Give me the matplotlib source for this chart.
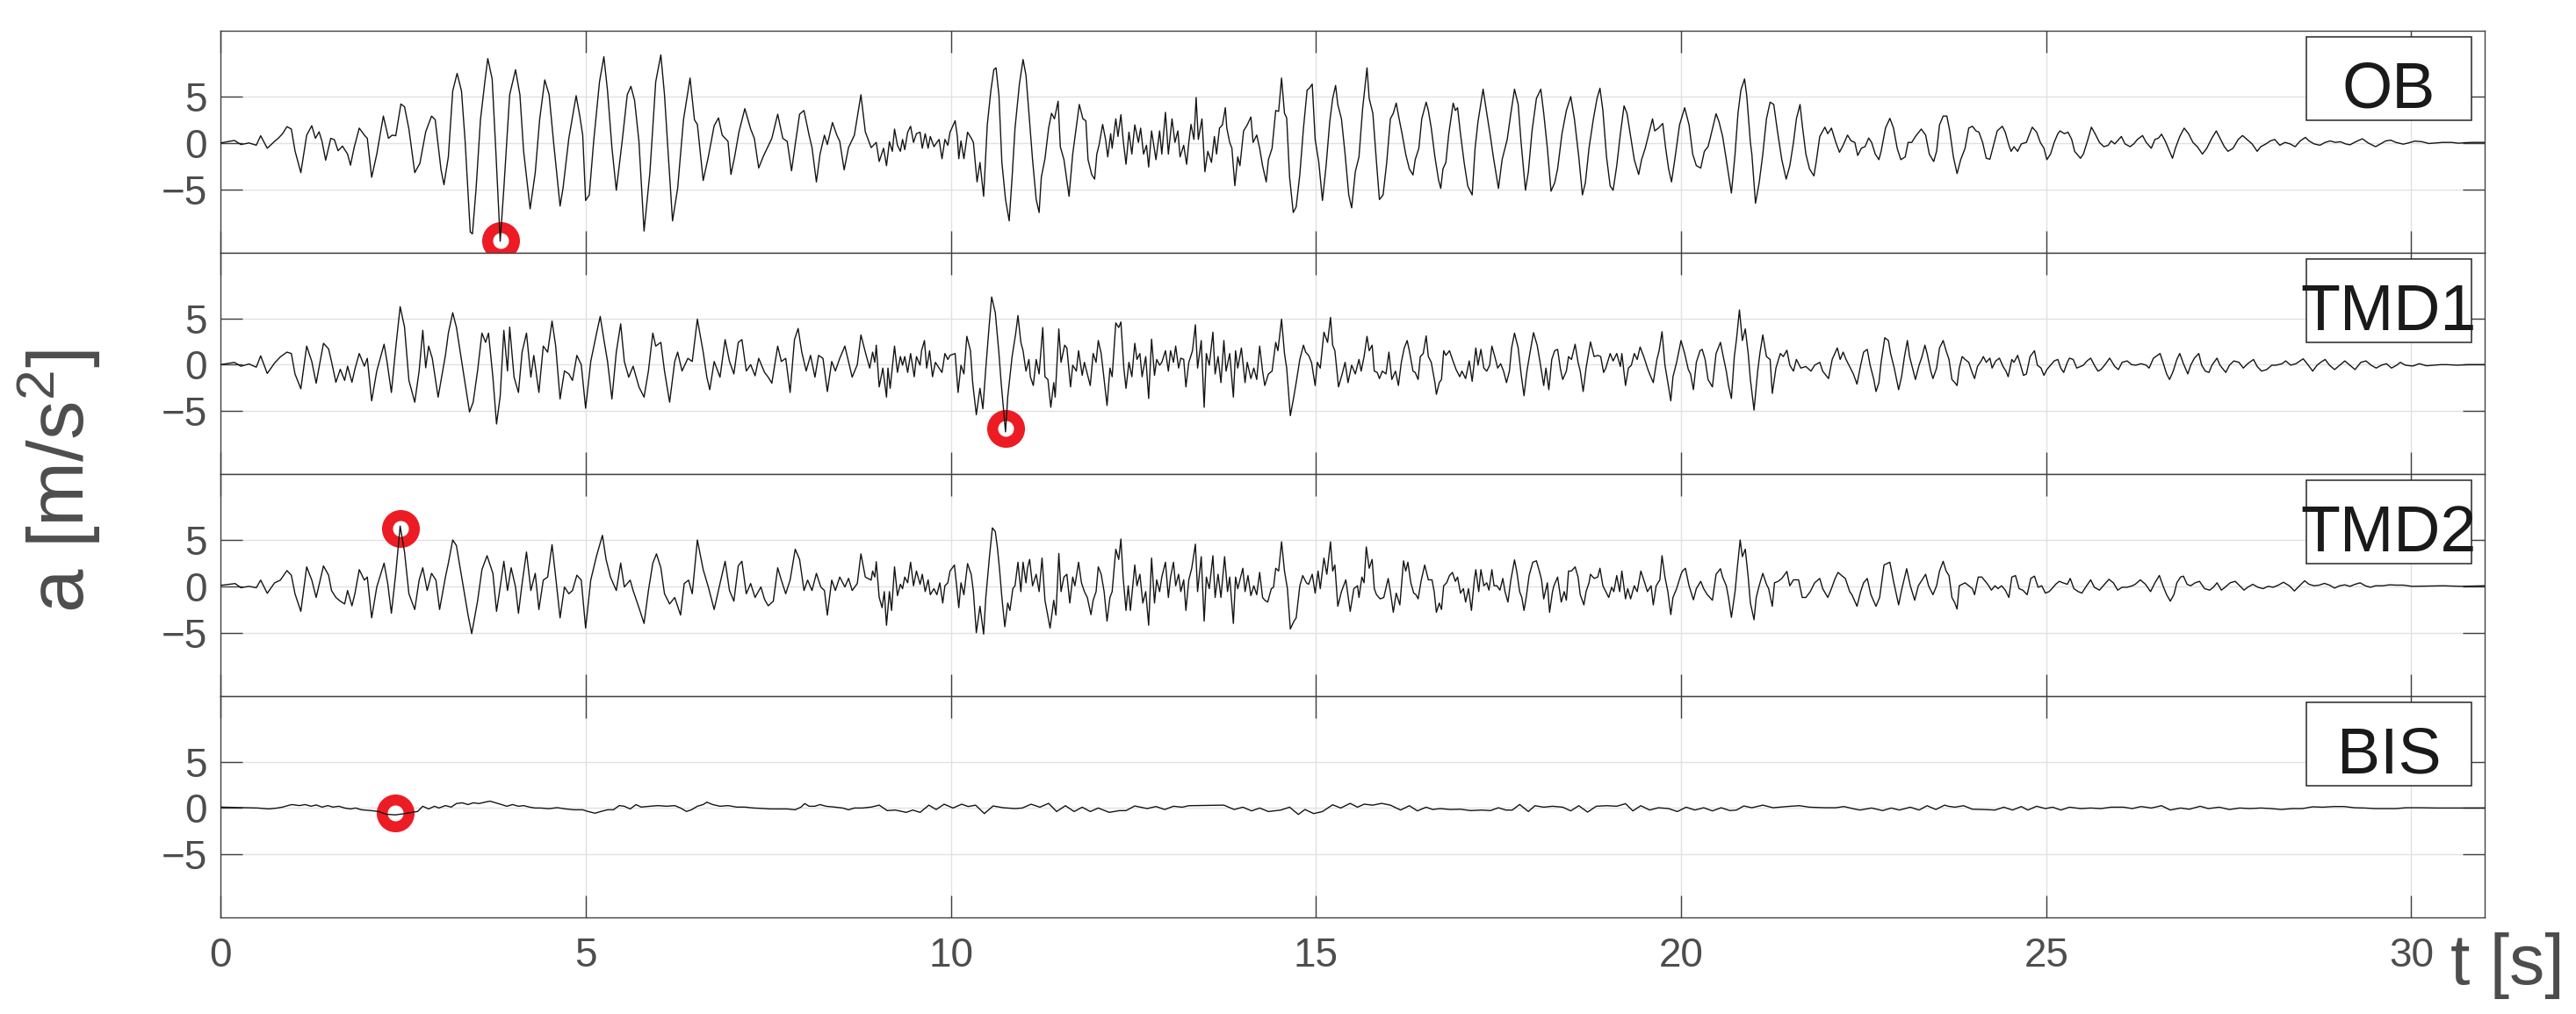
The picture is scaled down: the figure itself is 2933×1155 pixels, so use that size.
import numpy as np
import matplotlib
matplotlib.use("Agg")
import matplotlib.pyplot as plt
from matplotlib.patches import Rectangle

plt.rcParams['font.family'] = ['Liberation Sans', 'DejaVu Sans']
plt.rcParams['mathtext.fontset'] = 'custom'
plt.rcParams['mathtext.rm'] = 'Liberation Sans'
plt.rcParams['mathtext.it'] = 'Liberation Sans'

# (t [s], a [m/s^2]) pairs, peaks and troughs
ob = [
    (0.00, 0.0), (0.19, 0.27), (0.28, -0.17), (0.39, 0.0), (0.49, -0.24), (0.55, 0.78), (0.64, -0.57),
    (0.74, 0.17), (0.79, 0.5), (0.85, 1.0), (0.91, 1.76), (0.97, 1.5), (1.02, -0.84), (1.10, -3.2),
    (1.18, 0.84), (1.25, 1.86), (1.30, 0.5), (1.35, 1.2), (1.39, 0.17), (1.44, -1.86), (1.51, 0.5),
    (1.56, 0.34), (1.61, -0.84), (1.67, -0.34), (1.74, -1.2), (1.78, -2.4), (1.83, -0.5), (1.90, 1.6),
    (1.97, 0.84), (2.01, 0.5), (2.07, -3.7), (2.14, -1.2), (2.23, 2.9), (2.30, 0.5), (2.35, 0.84),
    (2.40, 0.78), (2.47, 4.2), (2.52, 3.9), (2.58, 1.5), (2.66, -3.2), (2.73, -2.2), (2.81, 1.2),
    (2.89, 2.9), (2.94, 2.5), (3.02, -2.9), (3.06, -4.5), (3.12, -1.5), (3.18, 5.6), (3.24, 7.5),
    (3.30, 5.6), (3.35, 0.17), (3.42, -9.6), (3.45, -9.8), (3.50, -4.9), (3.56, 2.5), (3.62, 6.6),
    (3.66, 9.1), (3.72, 6.9), (3.77, -0.84), (3.83, -10.6), (3.88, -4.9), (3.96, 5.2), (4.04, 7.9),
    (4.10, 5.2), (4.15, -0.84), (4.24, -7.1), (4.31, -3.2), (4.37, 2.5), (4.44, 6.8), (4.50, 5.2),
    (4.56, 0.17), (4.65, -6.8), (4.69, -4.9), (4.77, 0.5), (4.87, 5.1), (4.92, 2.9), (4.96, 0.84),
    (5.00, -6.2), (5.05, -5.6), (5.11, 0.17), (5.19, 6.6), (5.25, 9.3), (5.30, 5.6), (5.36, -0.5),
    (5.42, -5.1), (5.50, 0.17), (5.57, 5.2), (5.62, 6.1), (5.67, 4.6), (5.73, 0.17), (5.80, -9.5),
    (5.88, -3.2), (5.96, 6.6), (6.03, 9.5), (6.08, 5.2), (6.12, 0.17), (6.19, -8.4), (6.26, -4.9),
    (6.34, 2.5), (6.43, 7.0), (6.49, 2.5), (6.53, 2.0), (6.61, -4.05), (6.68, -1.5), (6.76, 1.86),
    (6.82, 2.7), (6.87, 0.84), (6.95, 0.17), (6.99, -3.4), (7.04, -1.5), (7.10, 1.2), (7.18, 3.7),
    (7.26, 1.5), (7.31, 0.5), (7.37, -2.7), (7.43, -1.5), (7.49, -0.5), (7.55, 0.5), (7.63, 3.1),
    (7.70, 0.5), (7.76, 0.17), (7.82, -3.0), (7.87, -0.17), (7.93, 3.1), (7.99, 3.5), (8.06, 0.84),
    (8.10, -0.5), (8.16, -4.2), (8.21, -1.2), (8.27, 0.84), (8.31, -0.17), (8.38, 2.2), (8.44, 0.84),
    (8.48, 0.17), (8.54, -2.9), (8.60, -0.5), (8.68, 0.84), (8.77, 5.2), (8.83, 1.2), (8.91, -0.5),
    (8.98, 0.06), (9.02, -2.0), (9.08, -0.57), (9.12, -2.45), (9.16, 0.13), (9.20, -0.9), (9.23, 1.5),
    (9.27, -0.25), (9.31, -0.9), (9.34, 0.38), (9.37, -0.72), (9.41, 1.16), (9.45, 1.8), (9.49, 0.06),
    (9.53, 1.0), (9.58, 1.16), (9.61, -0.57), (9.65, 1.0), (9.69, -0.57), (9.72, 0.7), (9.77, -0.4),
    (9.81, 0.06), (9.84, 0.38), (9.88, -1.7), (9.92, 0.38), (9.96, -0.25), (9.99, 1.16), (10.06, 2.4),
    (10.09, 0.7), (10.11, -1.7), (10.14, 0.22), (10.18, -1.7), (10.23, 1.16), (10.28, 0.53), (10.31, 0.06),
    (10.36, -4.2), (10.40, -2.1), (10.45, -5.75), (10.50, 1.95), (10.55, 5.7), (10.59, 7.9), (10.62, 8.1),
    (10.66, 5.1), (10.70, -2.1), (10.75, -6.1), (10.80, -8.4), (10.84, -3.7), (10.88, 1.6), (10.94, 6.35),
    (10.99, 9.0), (11.03, 7.3), (11.07, 3.2), (11.12, -1.8), (11.17, -6.1), (11.21, -7.5), (11.24, -3.7),
    (11.29, -1.7), (11.34, 1.6), (11.38, 3.2), (11.42, 2.6), (11.47, 4.5), (11.50, -0.4), (11.55, -1.8),
    (11.62, -5.75), (11.67, -1.2), (11.72, 1.8), (11.76, 4.15), (11.81, 2.6), (11.85, 2.4), (11.88, -1.8),
    (11.93, -3.4), (11.97, -3.9), (12.00, -1.2), (12.03, -0.25), (12.08, 2.0), (12.12, 0.38), (12.15, -1.5),
    (12.19, 1.0), (12.21, -0.57), (12.26, 2.6), (12.29, 0.7), (12.33, 3.05), (12.36, 0.38), (12.40, -2.3),
    (12.44, 1.16), (12.48, -1.2), (12.52, 1.95), (12.57, 0.06), (12.60, 1.6), (12.64, -1.2), (12.68, -0.25),
    (12.71, -2.6), (12.75, 1.3), (12.78, -0.25), (12.81, -1.8), (12.86, 1.3), (12.89, -1.2), (12.94, 3.3),
    (12.98, -1.2), (13.03, 2.6), (13.07, 0.06), (13.11, 1.3), (13.14, -1.5), (13.19, -0.25), (13.23, -2.3),
    (13.26, 0.06), (13.29, 2.0), (13.33, 0.38), (13.36, 4.9), (13.39, 0.38), (13.44, 2.6), (13.48, -3.1),
    (13.52, -0.9), (13.57, -2.1), (13.61, 0.7), (13.64, -1.2), (13.68, 1.6), (13.72, 1.95), (13.76, 3.8),
    (13.78, 1.6), (13.82, 0.06), (13.85, -0.57), (13.89, -4.6), (13.93, -1.5), (13.96, -2.45), (14.01, 1.3),
    (14.06, 1.95), (14.11, 2.8), (14.14, 0.06), (14.19, 0.85), (14.23, -0.57), (14.27, -2.45), (14.32, -4.2),
    (14.35, -1.8), (14.40, -0.57), (14.45, 3.5), (14.49, 3.4), (14.53, 7.0), (14.57, 3.2), (14.60, 2.7),
    (14.64, -3.7), (14.69, -7.5), (14.73, -6.9), (14.78, -3.4), (14.83, 1.6), (14.88, 5.7), (14.91, 5.9),
    (14.95, 6.35), (14.99, 0.38), (15.04, -2.1), (15.09, -6.2), (15.14, -2.45), (15.19, 2.3), (15.23, 4.8),
    (15.27, 6.2), (15.30, 4.15), (15.35, 2.6), (15.40, -1.2), (15.45, -5.6), (15.49, -7.0), (15.54, -3.1),
    (15.59, -1.5), (15.64, 3.7), (15.70, 8.1), (15.73, 4.8), (15.78, 3.2), (15.83, -2.1), (15.87, -6.1),
    (15.92, -5.6), (15.97, -2.1), (16.02, 2.6), (16.06, 3.2), (16.10, 4.3), (16.14, 2.6), (16.18, 1.0),
    (16.23, -1.2), (16.28, -2.8), (16.33, -3.45), (16.36, -1.8), (16.41, -0.57), (16.45, 2.6), (16.51, 4.4),
    (16.54, 3.5), (16.58, 1.6), (16.63, -1.5), (16.68, -4.0), (16.71, -4.9), (16.74, -2.8), (16.78, -2.1),
    (16.82, 1.0), (16.88, 4.3), (16.91, 3.5), (16.94, 3.8), (16.98, 1.0), (17.03, -2.1), (17.08, -4.65),
    (17.14, -5.6), (17.18, -0.57), (17.22, 2.3), (17.29, 5.8), (17.34, 3.2), (17.39, 0.7), (17.43, -1.5),
    (17.50, -4.9), (17.55, -1.8), (17.62, 0.38), (17.67, 3.2), (17.72, 5.8), (17.77, 4.15), (17.81, 0.06),
    (17.87, -5.1), (17.91, -3.1), (17.96, 1.3), (18.02, 4.8), (18.08, 5.8), (18.12, 3.2), (18.17, -0.57),
    (18.22, -5.2), (18.27, -4.3), (18.31, -2.8), (18.37, 1.0), (18.43, 3.5), (18.49, 5.0), (18.54, 2.6),
    (18.60, -1.5), (18.65, -5.6), (18.69, -4.3), (18.74, -0.57), (18.80, 2.6), (18.85, 4.8), (18.89, 5.9),
    (18.93, 3.5), (18.98, -1.5), (19.03, -4.65), (19.07, -5.1), (19.12, -2.45), (19.17, 1.0), (19.22, 4.0),
    (19.26, 3.2), (19.31, 0.7), (19.36, -1.8), (19.42, -3.4), (19.46, -1.8), (19.51, -0.57), (19.55, 0.7),
    (19.61, 2.6), (19.64, 1.3), (19.69, 1.6), (19.75, 2.1), (19.79, -0.57), (19.83, -2.8), (19.87, -4.2),
    (19.92, -1.5), (19.98, 1.95), (20.05, 3.8), (20.11, 1.95), (20.16, -1.2), (20.21, -2.45), (20.27, -2.7),
    (20.32, -0.9), (20.37, -0.4), (20.41, 0.85), (20.48, 3.15), (20.52, 2.3), (20.57, 0.7), (20.62, -1.8),
    (20.69, -5.4), (20.74, -1.2), (20.78, 3.2), (20.82, 5.7), (20.87, 6.9), (20.90, 5.1), (20.95, 0.06),
    (20.97, -1.2), (21.02, -6.5), (21.07, -4.3), (21.12, -1.2), (21.17, 2.6), (21.22, 4.4), (21.27, 4.15),
    (21.32, 1.3), (21.38, -1.8), (21.44, -3.9), (21.49, -2.45), (21.54, 0.06), (21.58, 2.6), (21.63, 4.15),
    (21.66, 1.95), (21.71, -1.2), (21.76, -2.8), (21.82, -3.55), (21.85, -2.1), (21.90, 0.7), (21.97, 1.7),
    (22.01, 1.0), (22.06, 1.6), (22.12, 0.06), (22.17, -1.0), (22.22, -0.25), (22.28, 0.85), (22.33, 0.22),
    (22.38, 0.06), (22.42, -1.35), (22.47, -0.57), (22.52, -0.4), (22.57, 0.53), (22.61, 0.06), (22.66, -1.2),
    (22.71, -1.8), (22.74, -0.9), (22.80, 1.6), (22.86, 2.65), (22.91, 1.6), (22.96, -0.57), (23.01, -1.8),
    (23.07, -1.5), (23.11, 0.06), (23.16, 0.06), (23.21, 0.7), (23.29, 1.5), (23.35, 0.85), (23.40, -1.2),
    (23.46, -2.0), (23.50, -0.9), (23.54, 1.95), (23.59, 2.9), (23.64, 2.9), (23.68, 1.3), (23.73, -1.5),
    (23.78, -3.3), (23.83, -1.8), (23.89, -0.57), (23.94, 1.6), (23.99, 1.8), (24.04, 1.3), (24.08, 1.16),
    (24.13, 0.06), (24.18, -1.65), (24.23, -1.75), (24.29, 0.06), (24.33, 1.3), (24.40, 1.8), (24.44, 1.16),
    (24.49, -0.25), (24.52, -0.9), (24.56, -0.4), (24.61, -0.9), (24.66, -0.1), (24.73, 0.06), (24.76, 0.7),
    (24.81, 1.7), (24.87, 1.16), (24.92, 0.06), (24.97, -0.57), (25.01, -1.8), (25.06, -1.2), (25.11, 0.06),
    (25.16, 1.0), (25.19, 1.3), (25.25, 1.0), (25.30, 1.16), (25.35, 0.38), (25.39, -0.9), (25.47, -1.65),
    (25.51, -1.2), (25.56, 0.06), (25.62, 1.7), (25.67, 1.0), (25.73, 0.06), (25.79, -0.4), (25.85, -0.25),
    (25.89, 0.22), (25.94, -0.1), (26.03, 0.7), (26.08, -0.1), (26.15, -0.4), (26.20, -0.1), (26.25, 0.38),
    (26.32, 0.8), (26.37, 0.06), (26.44, -0.57), (26.49, 0.38), (26.54, 0.53), (26.58, 0.95), (26.63, 0.22),
    (26.68, -0.72), (26.73, -1.65), (26.77, -0.57), (26.83, 0.7), (26.89, 1.6), (26.95, 1.0), (27.01, 0.06),
    (27.07, -0.4), (27.14, -1.2), (27.20, -0.57), (27.27, 0.53), (27.33, 1.3), (27.39, 0.38), (27.44, -0.4),
    (27.49, -0.9), (27.56, -0.57), (27.63, 0.38), (27.69, 0.8), (27.75, 0.38), (27.82, -0.1), (27.89, -0.9),
    (27.94, -0.4), (28.01, -0.1), (28.07, 0.22), (28.13, 0.38), (28.20, -0.25), (28.27, 0.06), (28.34, -0.1),
    (28.41, -0.4), (28.48, 0.22), (28.55, 0.6), (28.60, 0.22), (28.67, -0.1), (28.75, -0.25), (28.82, 0.06),
    (28.89, 0.22), (28.96, 0.06), (29.03, 0.13), (29.10, -0.1), (29.16, -0.2), (29.24, 0.13), (29.33, 0.45),
    (29.41, 0.0), (29.51, -0.4), (29.58, -0.1), (29.65, 0.22), (29.72, 0.3), (29.79, 0.06), (29.89, -0.13),
    (29.96, 0.0), (30.05, 0.2), (30.15, 0.13), (30.24, -0.06), (30.34, 0.0), (30.43, 0.06), (30.55, 0.06),
    (30.65, -0.03), (30.74, 0.03), (30.84, 0.06), (31.00, 0.06),
]

tmd1 = [
    (0.00, 0.0), (0.19, 0.24), (0.28, -0.17), (0.39, 0.07), (0.49, -0.27), (0.55, 0.95), (0.64, -0.95),
    (0.74, 0.17), (0.82, 0.84), (0.91, 1.35), (0.97, 1.2), (1.02, -1.0), (1.10, -2.6), (1.18, 2.0),
    (1.25, 0.34), (1.31, -2.0), (1.41, 2.3), (1.48, 1.7), (1.52, 0.34), (1.58, -1.9), (1.64, -0.5),
    (1.70, -1.7), (1.74, -0.17), (1.80, -1.9), (1.84, -0.5), (1.90, 1.2), (1.97, -0.17), (2.01, 0.68),
    (2.07, -3.9), (2.14, -0.68), (2.24, 2.2), (2.28, 0.34), (2.34, -3.0), (2.40, 1.86), (2.46, 6.25),
    (2.52, 4.05), (2.58, -1.7), (2.66, -4.05), (2.72, -0.68), (2.77, 3.7), (2.81, -0.34), (2.85, 2.0),
    (2.90, 0.68), (2.98, -3.5), (3.08, 1.0), (3.12, 3.4), (3.18, 5.6), (3.23, 4.05), (3.31, 0.0),
    (3.41, -5.1), (3.46, -4.05), (3.52, -0.68), (3.58, 3.4), (3.63, 2.4), (3.67, 3.4), (3.73, -1.35),
    (3.78, -6.4), (3.83, -3.4), (3.88, 3.7), (3.93, -0.68), (3.96, 4.05), (4.02, -1.35), (4.08, -3.0),
    (4.13, 1.35), (4.19, 3.4), (4.25, -1.35), (4.29, 1.0), (4.36, -3.0), (4.42, 2.0), (4.48, 1.35),
    (4.54, 4.7), (4.59, 2.0), (4.65, -3.7), (4.71, -0.68), (4.77, -1.0), (4.82, -1.7), (4.88, 1.0),
    (4.94, 0.0), (5.00, -4.7), (5.07, 0.34), (5.15, 3.4), (5.20, 5.2), (5.25, 2.7), (5.30, 0.34),
    (5.36, -3.7), (5.42, 1.35), (5.48, 4.4), (5.53, 0.34), (5.59, -1.35), (5.65, -0.17), (5.73, -2.4),
    (5.80, -3.5), (5.86, -0.68), (5.92, 3.4), (5.96, 2.0), (6.03, 2.4), (6.08, -0.68), (6.15, -4.05),
    (6.22, 0.34), (6.26, 1.35), (6.32, -0.68), (6.40, 0.68), (6.46, 0.34), (6.53, 4.9), (6.61, 1.35),
    (6.66, -1.35), (6.70, -2.7), (6.76, 0.34), (6.84, -1.35), (6.91, 2.7), (6.97, 0.34), (7.03, -1.0),
    (7.09, 2.4), (7.14, 2.7), (7.20, -0.68), (7.26, 0.0), (7.32, -1.2), (7.37, 0.68), (7.45, -0.84),
    (7.50, -1.35), (7.55, -2.0), (7.63, 2.0), (7.68, 0.34), (7.74, 0.68), (7.80, -3.0), (7.86, 2.7),
    (7.91, 3.9), (7.96, 1.35), (8.02, -0.68), (8.08, 1.0), (8.14, -1.35), (8.19, 1.0), (8.25, 0.68),
    (8.31, -2.9), (8.37, 0.34), (8.42, -0.68), (8.48, 0.68), (8.55, 2.0), (8.60, 0.34), (8.65, -1.35),
    (8.72, 0.0), (8.77, 3.2), (8.83, 1.35), (8.89, -0.37), (8.93, 1.35), (8.96, 0.25), (8.98, 2.1),
    (9.02, -2.4), (9.07, -0.37), (9.12, -3.5), (9.14, -0.37), (9.17, -2.55), (9.23, 2.0), (9.27, -0.84),
    (9.31, 0.87), (9.34, -0.06), (9.37, 0.87), (9.41, -0.84), (9.45, 1.2), (9.50, -1.3), (9.53, 0.87),
    (9.58, -0.06), (9.60, 1.5), (9.64, 2.6), (9.67, -0.37), (9.71, 1.5), (9.75, -1.3), (9.79, 0.25),
    (9.84, -0.37), (9.88, -0.84), (9.92, 1.2), (9.96, 0.56), (9.99, 1.0), (10.06, 1.2), (10.10, -3.0),
    (10.14, -0.06), (10.18, -1.0), (10.22, 3.05), (10.27, 1.5), (10.30, -1.94), (10.35, -5.4), (10.40, -2.55),
    (10.44, -4.75), (10.48, -0.37), (10.53, 4.6), (10.56, 7.3), (10.61, 5.6), (10.66, 1.2), (10.69, -1.94),
    (10.75, -7.25), (10.78, -3.5), (10.84, 0.87), (10.89, 3.4), (10.92, 5.3), (10.96, 2.4), (10.99, 1.5),
    (11.03, -0.7), (11.07, 0.56), (11.09, -1.3), (11.13, -2.25), (11.17, 0.56), (11.21, -1.0), (11.26, 4.0),
    (11.29, -1.3), (11.33, -1.6), (11.37, -4.6), (11.41, -1.94), (11.43, -3.5), (11.48, 3.85), (11.51, 0.25),
    (11.56, 2.1), (11.59, 1.8), (11.64, -2.4), (11.67, -0.06), (11.72, -0.7), (11.75, 1.5), (11.80, -1.16),
    (11.83, 0.25), (11.87, -1.0), (11.91, -2.25), (11.95, 1.2), (11.99, 0.25), (12.02, 2.6), (12.06, 1.2),
    (12.10, -1.6), (12.14, -4.4), (12.18, -0.37), (12.21, -1.3), (12.26, 4.5), (12.30, 4.0), (12.33, 4.6),
    (12.37, -0.37), (12.40, -2.55), (12.44, 0.25), (12.48, -1.3), (12.52, 2.3), (12.55, 0.56), (12.59, 1.2),
    (12.62, -1.3), (12.67, 0.87), (12.71, -3.65), (12.75, 2.75), (12.79, -1.16), (12.82, 0.56), (12.86, -0.06),
    (12.89, 0.25), (12.94, 1.5), (12.98, -0.7), (13.01, 1.5), (13.05, 0.25), (13.08, 2.0), (13.12, -0.37),
    (13.15, 0.7), (13.19, 0.56), (13.22, -2.4), (13.26, 0.25), (13.31, 1.5), (13.35, 4.3), (13.38, -0.37),
    (13.43, 2.6), (13.47, -4.6), (13.50, 1.2), (13.54, -0.06), (13.59, 3.5), (13.62, -1.0), (13.66, 0.87),
    (13.70, -1.94), (13.74, 2.6), (13.77, -0.7), (13.82, 1.2), (13.87, -3.5), (13.90, 1.5), (13.93, -0.37),
    (13.98, 1.8), (14.03, -1.94), (14.06, 0.25), (14.11, -1.5), (14.15, -0.37), (14.19, -1.6), (14.23, 2.0),
    (14.27, -0.7), (14.30, -2.25), (14.35, -1.0), (14.40, -0.7), (14.45, 2.4), (14.48, 1.5), (14.53, 4.9),
    (14.57, 1.2), (14.60, -0.37), (14.65, -5.5), (14.69, -3.8), (14.73, -1.94), (14.78, 0.56), (14.83, 2.1),
    (14.86, 1.35), (14.90, 1.0), (14.94, 0.25), (14.99, -2.25), (15.02, 0.25), (15.06, -0.37), (15.11, 3.5),
    (15.16, 2.4), (15.20, 5.1), (15.23, 2.1), (15.26, 1.5), (15.31, -2.4), (15.36, -1.0), (15.40, 0.25),
    (15.44, -1.94), (15.49, -0.06), (15.54, -1.0), (15.59, 0.56), (15.62, -0.7), (15.66, 0.87), (15.70, 3.05),
    (15.73, 1.5), (15.77, 2.1), (15.80, -0.7), (15.84, -0.84), (15.87, -1.5), (15.91, -0.7), (15.96, -1.0),
    (16.00, 1.35), (16.04, -1.6), (16.09, -0.7), (16.13, -2.25), (16.17, 0.25), (16.21, 1.8), (16.25, 2.6),
    (16.28, 1.5), (16.33, -0.7), (16.36, -0.84), (16.40, -1.6), (16.43, 0.87), (16.47, 1.2), (16.51, 3.1),
    (16.54, 0.87), (16.58, 0.25), (16.63, -1.94), (16.65, -3.2), (16.69, -1.94), (16.72, -1.6), (16.75, 1.5),
    (16.78, 1.0), (16.83, 1.5), (16.87, 0.56), (16.92, -0.53), (16.97, -1.3), (17.00, -0.7), (17.05, -1.5),
    (17.10, 0.4), (17.14, -1.8), (17.19, 1.8), (17.22, -0.06), (17.26, 1.65), (17.30, -0.37), (17.34, -0.7),
    (17.38, -0.06), (17.41, 2.0), (17.45, 0.87), (17.49, -0.37), (17.53, 0.1), (17.57, -0.7), (17.61, -1.94),
    (17.65, -0.7), (17.68, 1.8), (17.72, 3.4), (17.77, 1.8), (17.81, -1.0), (17.85, -3.35), (17.89, -0.7),
    (17.93, 1.2), (17.98, 3.45), (18.03, 2.1), (18.07, 0.25), (18.12, -2.25), (18.15, -0.37), (18.19, -2.7),
    (18.23, 0.56), (18.27, 1.5), (18.31, 1.65), (18.35, -0.53), (18.38, -1.6), (18.43, -0.7), (18.46, 0.87),
    (18.50, 0.56), (18.55, 2.2), (18.59, 0.25), (18.62, -0.7), (18.66, -2.9), (18.70, -0.37), (18.76, 2.45),
    (18.81, 0.87), (18.86, 1.0), (18.90, 0.87), (18.94, -0.84), (18.97, -0.37), (19.03, 1.2), (19.07, 0.4),
    (19.12, 1.2), (19.17, -0.2), (19.19, 1.2), (19.24, -2.25), (19.28, -0.37), (19.32, -0.06), (19.36, 1.2),
    (19.40, 0.56), (19.44, 1.9), (19.49, 0.87), (19.54, -0.37), (19.57, -1.0), (19.62, -1.94), (19.67, 0.56),
    (19.70, 1.5), (19.74, 3.55), (19.78, -0.06), (19.82, -1.94), (19.86, -3.9), (19.89, -1.3), (19.94, 0.25),
    (20.00, 2.6), (20.05, 1.2), (20.10, -0.53), (20.13, -1.0), (20.17, -2.7), (20.21, 0.25), (20.26, 1.5),
    (20.29, 1.65), (20.33, 0.56), (20.37, -1.6), (20.43, -2.4), (20.48, 1.2), (20.54, 2.4), (20.57, 1.2),
    (20.62, -0.7), (20.65, -2.25), (20.69, -3.65), (20.73, 0.87), (20.76, 2.75), (20.80, 5.9), (20.84, 2.6),
    (20.88, 3.85), (20.92, 1.2), (20.95, -1.6), (21.00, -4.9), (21.05, -0.7), (21.08, 1.2), (21.12, 3.2),
    (21.17, 0.87), (21.22, 0.56), (21.25, -3.1), (21.30, -0.37), (21.36, 1.2), (21.40, 0.87), (21.45, 1.55),
    (21.49, -0.06), (21.54, -0.7), (21.58, 0.56), (21.64, -0.37), (21.71, -0.2), (21.78, -0.7), (21.83, -0.06),
    (21.90, 0.25), (21.94, -0.7), (22.02, -1.5), (22.07, 0.56), (22.14, 1.8), (22.18, 0.56), (22.22, 1.35),
    (22.26, 0.56), (22.32, -0.37), (22.36, -1.0), (22.41, -2.1), (22.46, -0.06), (22.50, 1.35), (22.55, 1.65),
    (22.59, -0.06), (22.64, -1.6), (22.67, -2.9), (22.71, -1.94), (22.74, 0.25), (22.79, 2.9), (22.84, 2.6),
    (22.87, 1.2), (22.92, -0.37), (22.98, -2.7), (23.02, -1.3), (23.06, 0.87), (23.10, 2.6), (23.13, 0.87),
    (23.18, -0.7), (23.21, -1.6), (23.26, -0.06), (23.30, 0.87), (23.34, 2.1), (23.37, 1.2), (23.42, -0.7),
    (23.45, -1.5), (23.50, -0.37), (23.54, 1.8), (23.59, 2.6), (23.63, 1.5), (23.67, 0.56), (23.71, -1.6),
    (23.75, -1.94), (23.78, -2.25), (23.81, -0.37), (23.85, 0.87), (23.89, 0.56), (23.94, 0.25), (23.98, -0.7),
    (24.02, -1.5), (24.06, -0.2), (24.11, 0.4), (24.14, 0.87), (24.18, 0.25), (24.23, 0.7), (24.26, -0.37),
    (24.31, 0.4), (24.36, 0.7), (24.41, -0.2), (24.45, -0.7), (24.48, -1.3), (24.53, 0.56), (24.56, 0.25),
    (24.61, 1.0), (24.65, -0.06), (24.69, -1.16), (24.73, -1.0), (24.78, 0.87), (24.84, 1.5), (24.88, -0.06),
    (24.93, -0.37), (24.97, -1.16), (25.01, -0.53), (25.06, -0.06), (25.11, 0.4), (25.16, 0.56), (25.20, -0.37),
    (25.24, -0.84), (25.29, 0.25), (25.32, 0.7), (25.37, 0.56), (25.42, -0.37), (25.47, -0.2), (25.51, -0.06),
    (25.56, 0.4), (25.61, 0.7), (25.66, -0.06), (25.71, -0.7), (25.75, -0.53), (25.80, -0.06), (25.87, 0.7),
    (25.94, -0.2), (25.99, -0.53), (26.04, 0.25), (26.11, 0.4), (26.17, 0.0), (26.23, -0.06), (26.30, 0.1),
    (26.37, -0.06), (26.41, -0.37), (26.47, 0.7), (26.56, 1.2), (26.60, 0.25), (26.65, -1.0), (26.69, -1.6),
    (26.74, -0.7), (26.79, 0.56), (26.83, 1.2), (26.88, 0.1), (26.94, -1.0), (26.98, -0.06), (27.03, 0.7),
    (27.09, 1.2), (27.13, -0.06), (27.18, -0.7), (27.23, -0.84), (27.27, -0.06), (27.34, 0.7), (27.38, -0.06),
    (27.46, -0.84), (27.51, -0.06), (27.57, 0.4), (27.64, 0.25), (27.70, -0.37), (27.76, 0.1), (27.84, 0.56),
    (27.89, -0.2), (27.95, -0.7), (28.02, -0.53), (28.09, -0.06), (28.15, -0.06), (28.23, 0.1), (28.28, 0.4),
    (28.35, -0.06), (28.42, 0.1), (28.52, 0.63), (28.59, -0.06), (28.65, -0.7), (28.71, -0.06), (28.76, 0.25),
    (28.82, 0.56), (28.88, -0.06), (28.95, -0.53), (29.02, -0.06), (29.09, 0.4), (29.16, -0.06), (29.23, -0.53),
    (29.31, 0.25), (29.38, 0.4), (29.45, -0.06), (29.52, -0.37), (29.59, -0.06), (29.66, 0.1), (29.73, -0.37),
    (29.80, -0.06), (29.85, 0.25), (29.92, -0.06), (30.02, -0.15), (30.11, 0.1), (30.21, -0.12), (30.30, -0.06),
    (30.40, 0.0), (30.49, 0.0), (30.63, -0.06), (30.77, 0.0), (31.00, 0.0),
]

tmd2 = [
    (0.00, 0.1), (0.20, 0.3), (0.28, -0.15), (0.39, 0.0), (0.49, -0.15), (0.55, 0.67), (0.64, -0.75),
    (0.74, 0.37), (0.82, 0.67), (0.91, 1.7), (0.97, 1.2), (1.02, -0.8), (1.10, -2.7), (1.18, 2.1),
    (1.25, 0.67), (1.31, -1.2), (1.41, 2.2), (1.48, 1.2), (1.52, -0.45), (1.58, -1.2), (1.64, -1.6),
    (1.70, -1.9), (1.74, -0.45), (1.80, -2.1), (1.84, -0.8), (1.90, 1.8), (1.97, 0.67), (2.01, 1.0),
    (2.07, -3.4), (2.14, -0.07), (2.24, 2.5), (2.29, 0.3), (2.34, -2.9), (2.40, 1.4), (2.46, 6.5),
    (2.52, 3.7), (2.58, -0.8), (2.66, -2.5), (2.72, 0.67), (2.77, 2.0), (2.83, -0.45), (2.89, 1.4),
    (2.95, 0.67), (3.00, -2.5), (3.08, 1.0), (3.12, 2.5), (3.18, 5.0), (3.23, 4.4), (3.31, 0.67),
    (3.39, -3.1), (3.44, -5.1), (3.52, -1.6), (3.58, 1.8), (3.65, 3.3), (3.73, 1.4), (3.78, -2.7),
    (3.83, -0.07), (3.88, 2.7), (3.93, -0.45), (3.98, 2.0), (4.04, -0.07), (4.08, -2.9), (4.13, 0.3),
    (4.19, 3.7), (4.25, -0.45), (4.31, 1.4), (4.36, -2.5), (4.42, 0.67), (4.48, 1.0), (4.54, 4.5),
    (4.59, 1.0), (4.65, -3.4), (4.71, -0.07), (4.77, -0.8), (4.82, -0.45), (4.88, 1.2), (4.94, 0.67),
    (5.00, -4.5), (5.07, 0.67), (5.15, 3.3), (5.23, 5.5), (5.28, 2.9), (5.34, 1.0), (5.42, -0.45),
    (5.48, 2.5), (5.53, -0.07), (5.61, 0.67), (5.65, -0.45), (5.73, -2.3), (5.80, -4.0), (5.86, -0.45),
    (5.92, 2.5), (5.97, 3.5), (6.03, 2.0), (6.08, -0.8), (6.15, -1.9), (6.22, -1.2), (6.30, -3.1),
    (6.35, 0.3), (6.41, 0.67), (6.46, -0.8), (6.53, 5.0), (6.61, 1.8), (6.68, -0.07), (6.76, -2.5),
    (6.84, 0.3), (6.91, 2.7), (6.97, -0.45), (7.03, -1.6), (7.09, 2.2), (7.14, 2.7), (7.20, -0.8),
    (7.26, 0.3), (7.32, -1.2), (7.40, -0.07), (7.45, -1.4), (7.50, -2.1), (7.57, -1.6), (7.63, 2.0),
    (7.68, 0.67), (7.74, -0.8), (7.80, 0.67), (7.87, 4.0), (7.93, 2.9), (7.99, -0.45), (8.04, 0.67),
    (8.10, -0.45), (8.16, 1.4), (8.22, -0.07), (8.27, -0.45), (8.31, -3.1), (8.37, 0.67), (8.42, -0.45),
    (8.48, 1.0), (8.55, -0.07), (8.60, 0.86), (8.65, -0.45), (8.72, 0.3), (8.77, 3.5), (8.83, 1.0),
    (8.91, 0.67), (8.93, 1.65), (8.96, 1.0), (8.98, 2.65), (9.02, -1.2), (9.06, -2.3), (9.09, -0.57),
    (9.12, -4.2), (9.16, -0.57), (9.19, -2.6), (9.23, 2.1), (9.27, -1.0), (9.31, 0.22), (9.34, -0.25),
    (9.37, 1.0), (9.41, 0.38), (9.45, 2.6), (9.49, 0.06), (9.53, 1.65), (9.58, 0.22), (9.61, 1.3),
    (9.65, -0.57), (9.69, 0.7), (9.72, -0.9), (9.77, -0.25), (9.81, -0.9), (9.85, 0.38), (9.89, -1.8),
    (9.92, 0.06), (9.96, 0.38), (9.99, 1.65), (10.05, 2.3), (10.08, 0.06), (10.11, -2.3), (10.14, 0.38),
    (10.18, -0.9), (10.23, 2.45), (10.28, 1.3), (10.31, -0.57), (10.35, -5.0), (10.40, -2.15), (10.45, -5.15),
    (10.48, -1.2), (10.53, 3.2), (10.57, 6.3), (10.61, 5.9), (10.64, 4.1), (10.67, 1.65), (10.70, -1.2),
    (10.74, -4.35), (10.78, -1.8), (10.81, -2.6), (10.85, -0.25), (10.88, 0.06), (10.92, 2.6), (10.96, -0.57),
    (10.99, 2.6), (11.03, 0.38), (11.05, 1.95), (11.08, 2.9), (11.12, 0.06), (11.17, 1.3), (11.21, -0.57),
    (11.25, 3.05), (11.29, -1.5), (11.32, -2.8), (11.36, -4.5), (11.41, -1.5), (11.44, -3.1), (11.48, 3.55),
    (11.51, -0.57), (11.55, 1.0), (11.59, 1.3), (11.63, -1.8), (11.67, 1.0), (11.70, 0.06), (11.75, 2.6),
    (11.79, 0.38), (11.83, -0.57), (11.87, -1.2), (11.92, -3.05), (11.95, -1.5), (11.99, -0.57), (12.02, 2.1),
    (12.06, 1.3), (12.10, -0.57), (12.14, -3.75), (12.18, -1.2), (12.21, -0.57), (12.26, 4.0), (12.30, 2.9),
    (12.33, 5.1), (12.36, 1.0), (12.40, -2.6), (12.43, 0.06), (12.46, -2.6), (12.52, 2.3), (12.55, 0.06),
    (12.59, 1.3), (12.63, -1.8), (12.67, -0.57), (12.71, -4.2), (12.75, 3.05), (12.79, -1.8), (12.82, 0.7),
    (12.86, -0.57), (12.89, 1.0), (12.94, 2.6), (12.98, -1.2), (13.01, 1.0), (13.05, 2.6), (13.08, 0.06),
    (13.12, 1.3), (13.15, -0.57), (13.19, 0.7), (13.22, -2.6), (13.26, 0.7), (13.30, 1.95), (13.35, 4.55),
    (13.38, -0.57), (13.43, 3.2), (13.47, -3.75), (13.50, 1.0), (13.54, -0.25), (13.59, 3.3), (13.62, -1.2),
    (13.66, 1.3), (13.70, -1.2), (13.75, 3.2), (13.79, -0.57), (13.82, 1.0), (13.87, -4.0), (13.90, 1.0),
    (13.93, -0.25), (14.00, 1.95), (14.03, -0.57), (14.07, 1.16), (14.11, -1.0), (14.15, 0.06), (14.19, -0.9),
    (14.23, 1.5), (14.27, -1.2), (14.30, -1.5), (14.34, -1.7), (14.39, -0.25), (14.42, -0.1), (14.45, 1.95),
    (14.49, 1.65), (14.53, 4.8), (14.57, 1.65), (14.61, -0.25), (14.65, -4.6), (14.70, -3.75), (14.73, -3.4),
    (14.78, 0.06), (14.82, 1.16), (14.87, 0.38), (14.90, 0.22), (14.95, 1.3), (14.99, -0.73), (15.03, 1.65),
    (15.06, -0.25), (15.11, 3.05), (15.15, 1.3), (15.20, 4.8), (15.23, 1.65), (15.26, 2.3), (15.30, -2.15),
    (15.35, -0.57), (15.41, 0.7), (15.47, -2.7), (15.52, -0.25), (15.57, 0.06), (15.59, -1.2), (15.63, 1.0),
    (15.66, 0.38), (15.69, 4.25), (15.73, 1.95), (15.77, 2.9), (15.80, -0.25), (15.83, -0.9), (15.88, -1.35),
    (15.93, -1.2), (15.99, 0.85), (16.02, -0.57), (16.06, -2.8), (16.10, -0.73), (16.15, -2.0), (16.20, 2.75),
    (16.23, 1.65), (16.26, 2.6), (16.30, 0.38), (16.34, -0.73), (16.37, -0.9), (16.40, -1.35), (16.44, 0.54),
    (16.49, 2.3), (16.54, 0.7), (16.59, 0.7), (16.62, -0.57), (16.65, -2.8), (16.69, -1.8), (16.72, -2.5),
    (16.75, 0.06), (16.79, 0.38), (16.83, 1.16), (16.87, 1.5), (16.91, 0.54), (16.94, 1.0), (16.98, -0.73),
    (17.02, -0.25), (17.05, -1.7), (17.09, -0.25), (17.13, -2.6), (17.17, 0.7), (17.19, 1.8), (17.23, -0.57),
    (17.26, 1.8), (17.30, 0.06), (17.34, 0.38), (17.37, -0.41), (17.41, 1.8), (17.44, 0.06), (17.48, 0.06),
    (17.52, -0.41), (17.56, 0.85), (17.59, -0.57), (17.63, -1.7), (17.67, 0.7), (17.72, 2.85), (17.75, 1.65),
    (17.79, -0.57), (17.82, -1.2), (17.85, -2.6), (17.88, -1.2), (17.92, 1.16), (17.97, 2.6), (18.02, 2.75),
    (18.06, 1.65), (18.09, 0.7), (18.12, -1.35), (18.17, 0.38), (18.20, -2.8), (18.24, -0.57), (18.26, 0.06),
    (18.31, 1.0), (18.36, -1.7), (18.40, -0.57), (18.43, -1.5), (18.46, 1.65), (18.50, 1.65), (18.55, 2.1),
    (18.59, 1.0), (18.62, -0.9), (18.67, -2.0), (18.70, -0.57), (18.74, 0.38), (18.76, 1.3), (18.81, 0.85),
    (18.86, 1.0), (18.89, 1.95), (18.93, 0.06), (18.98, -0.73), (19.01, -1.2), (19.05, -0.1), (19.08, -0.57),
    (19.12, 1.16), (19.16, -0.57), (19.19, 1.65), (19.24, -1.35), (19.27, -0.25), (19.31, -1.35), (19.36, 0.06),
    (19.40, -0.57), (19.45, 1.65), (19.49, 0.7), (19.54, -0.57), (19.59, 0.06), (19.62, -2.0), (19.66, 0.06),
    (19.71, 0.7), (19.74, 3.3), (19.78, 1.0), (19.82, -0.57), (19.86, -3.05), (19.89, -1.2), (19.94, -0.25),
    (20.00, 1.3), (20.02, 1.65), (20.06, 1.95), (20.11, 0.06), (20.17, -1.45), (20.21, -0.25), (20.27, 0.54),
    (20.31, -0.25), (20.36, -0.9), (20.43, -1.5), (20.48, 1.3), (20.54, 1.9), (20.57, 1.0), (20.62, 0.06),
    (20.65, -1.2), (20.69, -3.35), (20.74, -0.57), (20.77, 1.95), (20.81, 5.0), (20.84, 3.2), (20.88, 4.0),
    (20.92, 1.0), (20.95, -1.8), (21.00, -3.6), (21.03, -1.2), (21.07, 0.06), (21.12, 1.4), (21.17, 0.22),
    (21.20, -0.25), (21.25, -2.15), (21.28, 0.38), (21.33, 0.54), (21.38, 0.85), (21.45, 1.6), (21.49, 0.06),
    (21.54, 0.7), (21.61, 0.7), (21.66, -1.2), (21.71, -1.2), (21.77, -0.57), (21.83, 0.38), (21.90, 0.85),
    (21.94, -0.25), (22.01, -1.2), (22.06, -0.25), (22.11, 0.85), (22.15, 1.5), (22.20, 1.16), (22.25, 0.85),
    (22.31, -0.57), (22.34, -0.9), (22.41, -2.15), (22.46, -0.57), (22.50, 0.38), (22.55, 0.85), (22.60, -0.9),
    (22.67, -2.15), (22.72, -1.2), (22.78, 2.3), (22.86, 2.6), (22.91, 0.54), (22.98, -2.0), (23.02, -0.41),
    (23.09, 1.9), (23.14, 0.06), (23.20, -1.5), (23.25, 0.06), (23.35, 1.3), (23.39, 0.06), (23.45, -0.9),
    (23.50, 0.06), (23.54, 1.65), (23.59, 2.7), (23.63, 1.65), (23.67, 1.16), (23.71, -1.2), (23.75, -1.8),
    (23.78, -2.45), (23.81, 0.06), (23.85, 0.22), (23.89, 0.38), (23.94, 0.06), (23.99, -0.25), (24.02, -0.9),
    (24.07, 1.0), (24.12, 1.0), (24.15, 0.7), (24.20, 0.22), (24.25, -0.41), (24.30, 0.06), (24.34, -0.25),
    (24.39, 0.06), (24.44, -0.41), (24.49, -1.2), (24.53, 1.0), (24.58, 1.16), (24.63, -0.25), (24.68, -0.41),
    (24.74, -0.9), (24.79, 0.85), (24.84, 1.1), (24.89, -0.1), (24.94, 0.06), (24.99, -0.73), (25.04, -0.57),
    (25.08, -0.25), (25.13, 0.22), (25.18, 0.54), (25.23, 0.38), (25.29, 0.22), (25.33, 0.85), (25.38, -0.25),
    (25.44, -0.57), (25.49, -0.73), (25.54, -0.1), (25.61, 0.7), (25.66, -0.1), (25.73, -0.41), (25.80, 0.22),
    (25.86, 0.76), (25.92, 0.38), (25.98, -0.41), (26.04, -0.1), (26.11, -0.1), (26.18, 0.06), (26.22, 0.22),
    (26.29, 0.7), (26.36, 0.22), (26.43, -0.57), (26.49, 0.38), (26.55, 1.17), (26.60, 0.06), (26.65, -0.9),
    (26.70, -1.6), (26.75, -0.9), (26.79, 0.38), (26.84, 1.0), (26.88, 1.1), (26.93, 0.22), (26.98, 0.06),
    (27.04, 0.38), (27.10, 0.54), (27.17, -0.25), (27.24, -0.41), (27.29, -0.1), (27.34, 0.38), (27.40, -0.41),
    (27.45, -0.1), (27.52, 0.38), (27.59, 0.54), (27.65, 0.06), (27.71, -0.41), (27.76, -0.1), (27.83, 0.22),
    (27.90, -0.1), (27.97, -0.25), (28.04, 0.0), (28.11, -0.1), (28.18, 0.13), (28.25, 0.44), (28.33, 0.06),
    (28.40, -0.5), (28.47, 0.06), (28.54, 0.6), (28.60, 0.22), (28.67, 0.06), (28.74, 0.13), (28.81, 0.32),
    (28.88, 0.13), (28.95, -0.19), (29.02, 0.06), (29.09, 0.16), (29.16, 0.0), (29.23, 0.22), (29.30, 0.38),
    (29.37, 0.06), (29.44, -0.1), (29.51, 0.06), (29.61, 0.06), (29.70, 0.16), (29.80, 0.13), (29.89, 0.13),
    (30.01, 0.0), (30.20, 0.03), (30.44, 0.06), (30.68, 0.0), (31.00, 0.06),
]

bis = [
    (0.00, 0.1), (0.28, 0.04), (0.51, 0.0), (0.66, -0.1), (0.78, 0.0), (0.85, 0.1), (0.92, 0.26),
    (0.98, 0.37), (1.08, 0.26), (1.16, 0.37), (1.24, 0.19), (1.31, 0.33), (1.39, 0.1), (1.47, 0.26),
    (1.54, 0.1), (1.62, 0.19), (1.70, 0.0), (1.78, -0.1), (1.85, 0.0), (1.93, -0.19), (2.04, -0.26),
    (2.16, -0.37), (2.27, -0.67), (2.39, -0.74), (2.50, -0.63), (2.62, -0.48), (2.70, -0.37), (2.77, 0.19),
    (2.85, -0.1), (2.93, 0.19), (2.99, 0.0), (3.08, 0.26), (3.16, 0.1), (3.23, 0.48), (3.31, 0.56),
    (3.39, 0.37), (3.46, 0.56), (3.54, 0.48), (3.62, 0.63), (3.69, 0.74), (3.77, 0.56), (3.85, 0.37),
    (3.92, 0.19), (4.00, 0.37), (4.08, 0.19), (4.15, 0.26), (4.23, 0.1), (4.31, 0.0), (4.38, 0.0),
    (4.50, -0.07), (4.61, 0.04), (4.73, -0.1), (4.84, -0.19), (4.96, -0.19), (5.03, -0.37), (5.13, -0.56),
    (5.21, -0.37), (5.30, -0.19), (5.38, -0.19), (5.46, 0.26), (5.53, 0.19), (5.61, -0.1), (5.69, 0.37),
    (5.76, 0.1), (5.88, 0.19), (5.99, 0.26), (6.11, 0.19), (6.22, 0.26), (6.30, 0.0), (6.38, -0.37),
    (6.45, -0.19), (6.53, 0.19), (6.61, 0.37), (6.66, 0.63), (6.74, 0.37), (6.84, 0.19), (6.95, 0.26),
    (7.07, 0.1), (7.18, 0.1), (7.30, 0.0), (7.41, -0.04), (7.53, -0.1), (7.64, -0.1), (7.76, -0.1),
    (7.87, -0.19), (7.95, 0.1), (8.00, 0.48), (8.06, 0.19), (8.14, 0.19), (8.21, 0.37), (8.29, 0.19),
    (8.41, 0.1), (8.52, 0.0), (8.60, -0.19), (8.68, 0.0), (8.79, 0.0), (8.91, 0.1), (9.02, 0.31),
    (9.13, -0.28), (9.24, -0.22), (9.39, -0.47), (9.48, -0.22), (9.58, -0.47), (9.70, 0.31), (9.80, -0.16),
    (9.91, 0.41), (10.03, 0.0), (10.15, 0.41), (10.24, 0.16), (10.34, 0.31), (10.46, -0.6), (10.58, 0.22),
    (10.72, 0.03), (10.88, -0.06), (10.98, 0.0), (11.10, 0.41), (11.22, 0.09), (11.34, 0.5), (11.45, -0.38),
    (11.57, 0.25), (11.69, -0.38), (11.80, 0.09), (11.91, -0.38), (12.02, 0.0), (12.17, -0.47), (12.31, -0.28),
    (12.40, -0.28), (12.52, 0.22), (12.69, -0.06), (12.81, 0.16), (12.93, -0.16), (13.05, 0.19), (13.17, 0.09),
    (13.26, 0.25), (13.74, 0.31), (13.88, -0.16), (14.00, 0.09), (14.12, -0.31), (14.23, 0.0), (14.35, -0.38),
    (14.52, -0.22), (14.64, 0.09), (14.76, -0.69), (14.85, -0.16), (14.97, -0.6), (15.09, -0.38), (15.23, 0.35),
    (15.34, 0.0), (15.47, 0.5), (15.57, 0.09), (15.66, 0.41), (15.78, 0.31), (15.90, 0.5), (16.02, 0.31),
    (16.16, -0.22), (16.28, 0.25), (16.39, -0.31), (16.51, 0.09), (16.60, -0.16), (16.70, -0.06), (16.84, -0.16),
    (16.98, -0.13), (17.12, -0.28), (17.27, -0.22), (17.39, -0.28), (17.50, 0.03), (17.60, -0.22), (17.69, -0.22),
    (17.79, 0.38), (17.91, -0.38), (18.00, 0.25), (18.12, 0.09), (18.24, 0.19), (18.38, 0.09), (18.49, -0.31),
    (18.60, 0.25), (18.72, -0.44), (18.84, 0.19), (18.98, 0.25), (19.12, 0.19), (19.24, 0.47), (19.34, -0.31),
    (19.45, 0.25), (19.57, -0.22), (19.69, 0.03), (19.83, -0.06), (19.95, -0.38), (20.07, 0.09), (20.19, -0.22),
    (20.31, 0.03), (20.43, -0.31), (20.55, 0.03), (20.67, -0.28), (20.76, -0.22), (20.86, 0.22), (20.97, 0.03),
    (21.12, 0.31), (21.26, 0.03), (21.45, 0.16), (21.62, 0.25), (21.76, 0.09), (21.97, 0.03), (22.12, 0.03),
    (22.23, 0.16), (22.35, -0.06), (22.45, -0.22), (22.61, 0.0), (22.76, -0.28), (22.88, 0.0), (22.99, -0.22),
    (23.14, 0.09), (23.26, -0.22), (23.37, 0.25), (23.49, -0.16), (23.61, 0.31), (23.66, 0.19), (23.75, 0.09),
    (23.87, 0.25), (23.99, -0.13), (24.13, -0.16), (24.30, -0.22), (24.42, 0.09), (24.54, -0.22), (24.66, 0.16),
    (24.75, -0.22), (24.87, 0.19), (24.99, -0.06), (25.09, 0.09), (25.20, -0.22), (25.32, 0.09), (25.47, -0.06),
    (25.61, 0.0), (25.75, -0.06), (25.89, 0.09), (26.06, 0.09), (26.18, -0.06), (26.30, 0.16), (26.44, 0.0),
    (26.58, 0.25), (26.70, -0.22), (26.84, 0.0), (26.96, -0.13), (27.11, 0.19), (27.22, -0.06), (27.37, 0.09),
    (27.51, -0.16), (27.65, 0.0), (27.79, -0.06), (27.94, 0.0), (28.08, -0.06), (28.22, -0.16), (28.37, -0.06),
    (28.51, -0.06), (28.65, 0.13), (28.79, 0.09), (28.94, 0.16), (29.08, 0.16), (29.22, 0.03), (29.36, 0.0),
    (29.51, -0.06), (29.65, -0.06), (29.79, -0.06), (29.93, 0.03), (30.12, 0.03), (30.36, 0.0), (30.55, 0.0),
    (31.00, 0.0),
]

labels = ["OB", "TMD1", "TMD2", "BIS"]
peak_t = [3.83, 10.75, 2.46, 2.39]
peak_a = [-10.5, -6.85, 6.2, -0.56]

x_ticks = [0, 5, 10, 15, 20, 25, 30]
y_ticks = [-5, 0, 5]

gray = '#4d4d4d'
dark = '#404040'

fig, axes = plt.subplots(4, 1, sharex=True, figsize=(29.33, 11.55), dpi=100,
                         gridspec_kw=dict(hspace=0))
fig.subplots_adjust(left=0.0856, right=0.9644, top=0.9697, bottom=0.0952)

for ax, sig, name, pt, pa in zip(axes, [ob, tmd1, tmd2, bis], labels, peak_t, peak_a):
    t, a = np.array(sig).T
    ax.plot([pt], [pa], 'o', ms=22, mew=9, mec='#ed1c24', mfc='white', zorder=3)
    ax.plot(t, a, color='#141414', lw=1.0, zorder=4)
    ax.set_xlim(0, 31)
    ax.set_ylim(-11.8, 12.1)
    ax.set_xticks(x_ticks)
    ax.set_yticks(y_ticks)
    ax.grid(True, color='#e1e1e1', lw=1.0)
    ax.set_axisbelow(True)
    ax.tick_params(direction='in', length=18, width=1.0, color=dark, labelcolor=gray,
                   labelsize=33, top=True, right=True)
    ax.tick_params(axis='y', pad=11)
    ax.tick_params(axis='x', pad=16)
    for s in ax.spines.values():
        s.set_color(dark)
        s.set_linewidth(1.0)
    # legend-like name box
    ax.add_patch(Rectangle((0.9214, 0.596), 0.0729, 0.3763, transform=ax.transAxes,
                           fc='white', ec='#262626', lw=1.1, zorder=5))
    ax.text(0.9578, 0.6515, name, transform=ax.transAxes, ha='center', va='baseline',
            fontsize=53, color='#1a1a1a', zorder=6)

fig.text(0.006, 0.526, 'a [m/s$^2$]', rotation=90, ha='left', va='center',
         fontsize=64, color=gray)
fig.text(0.9512, 0.0476, 't [s]', ha='left', va='center', fontsize=58, color=gray)

fig.savefig('out.png', dpi=100)
